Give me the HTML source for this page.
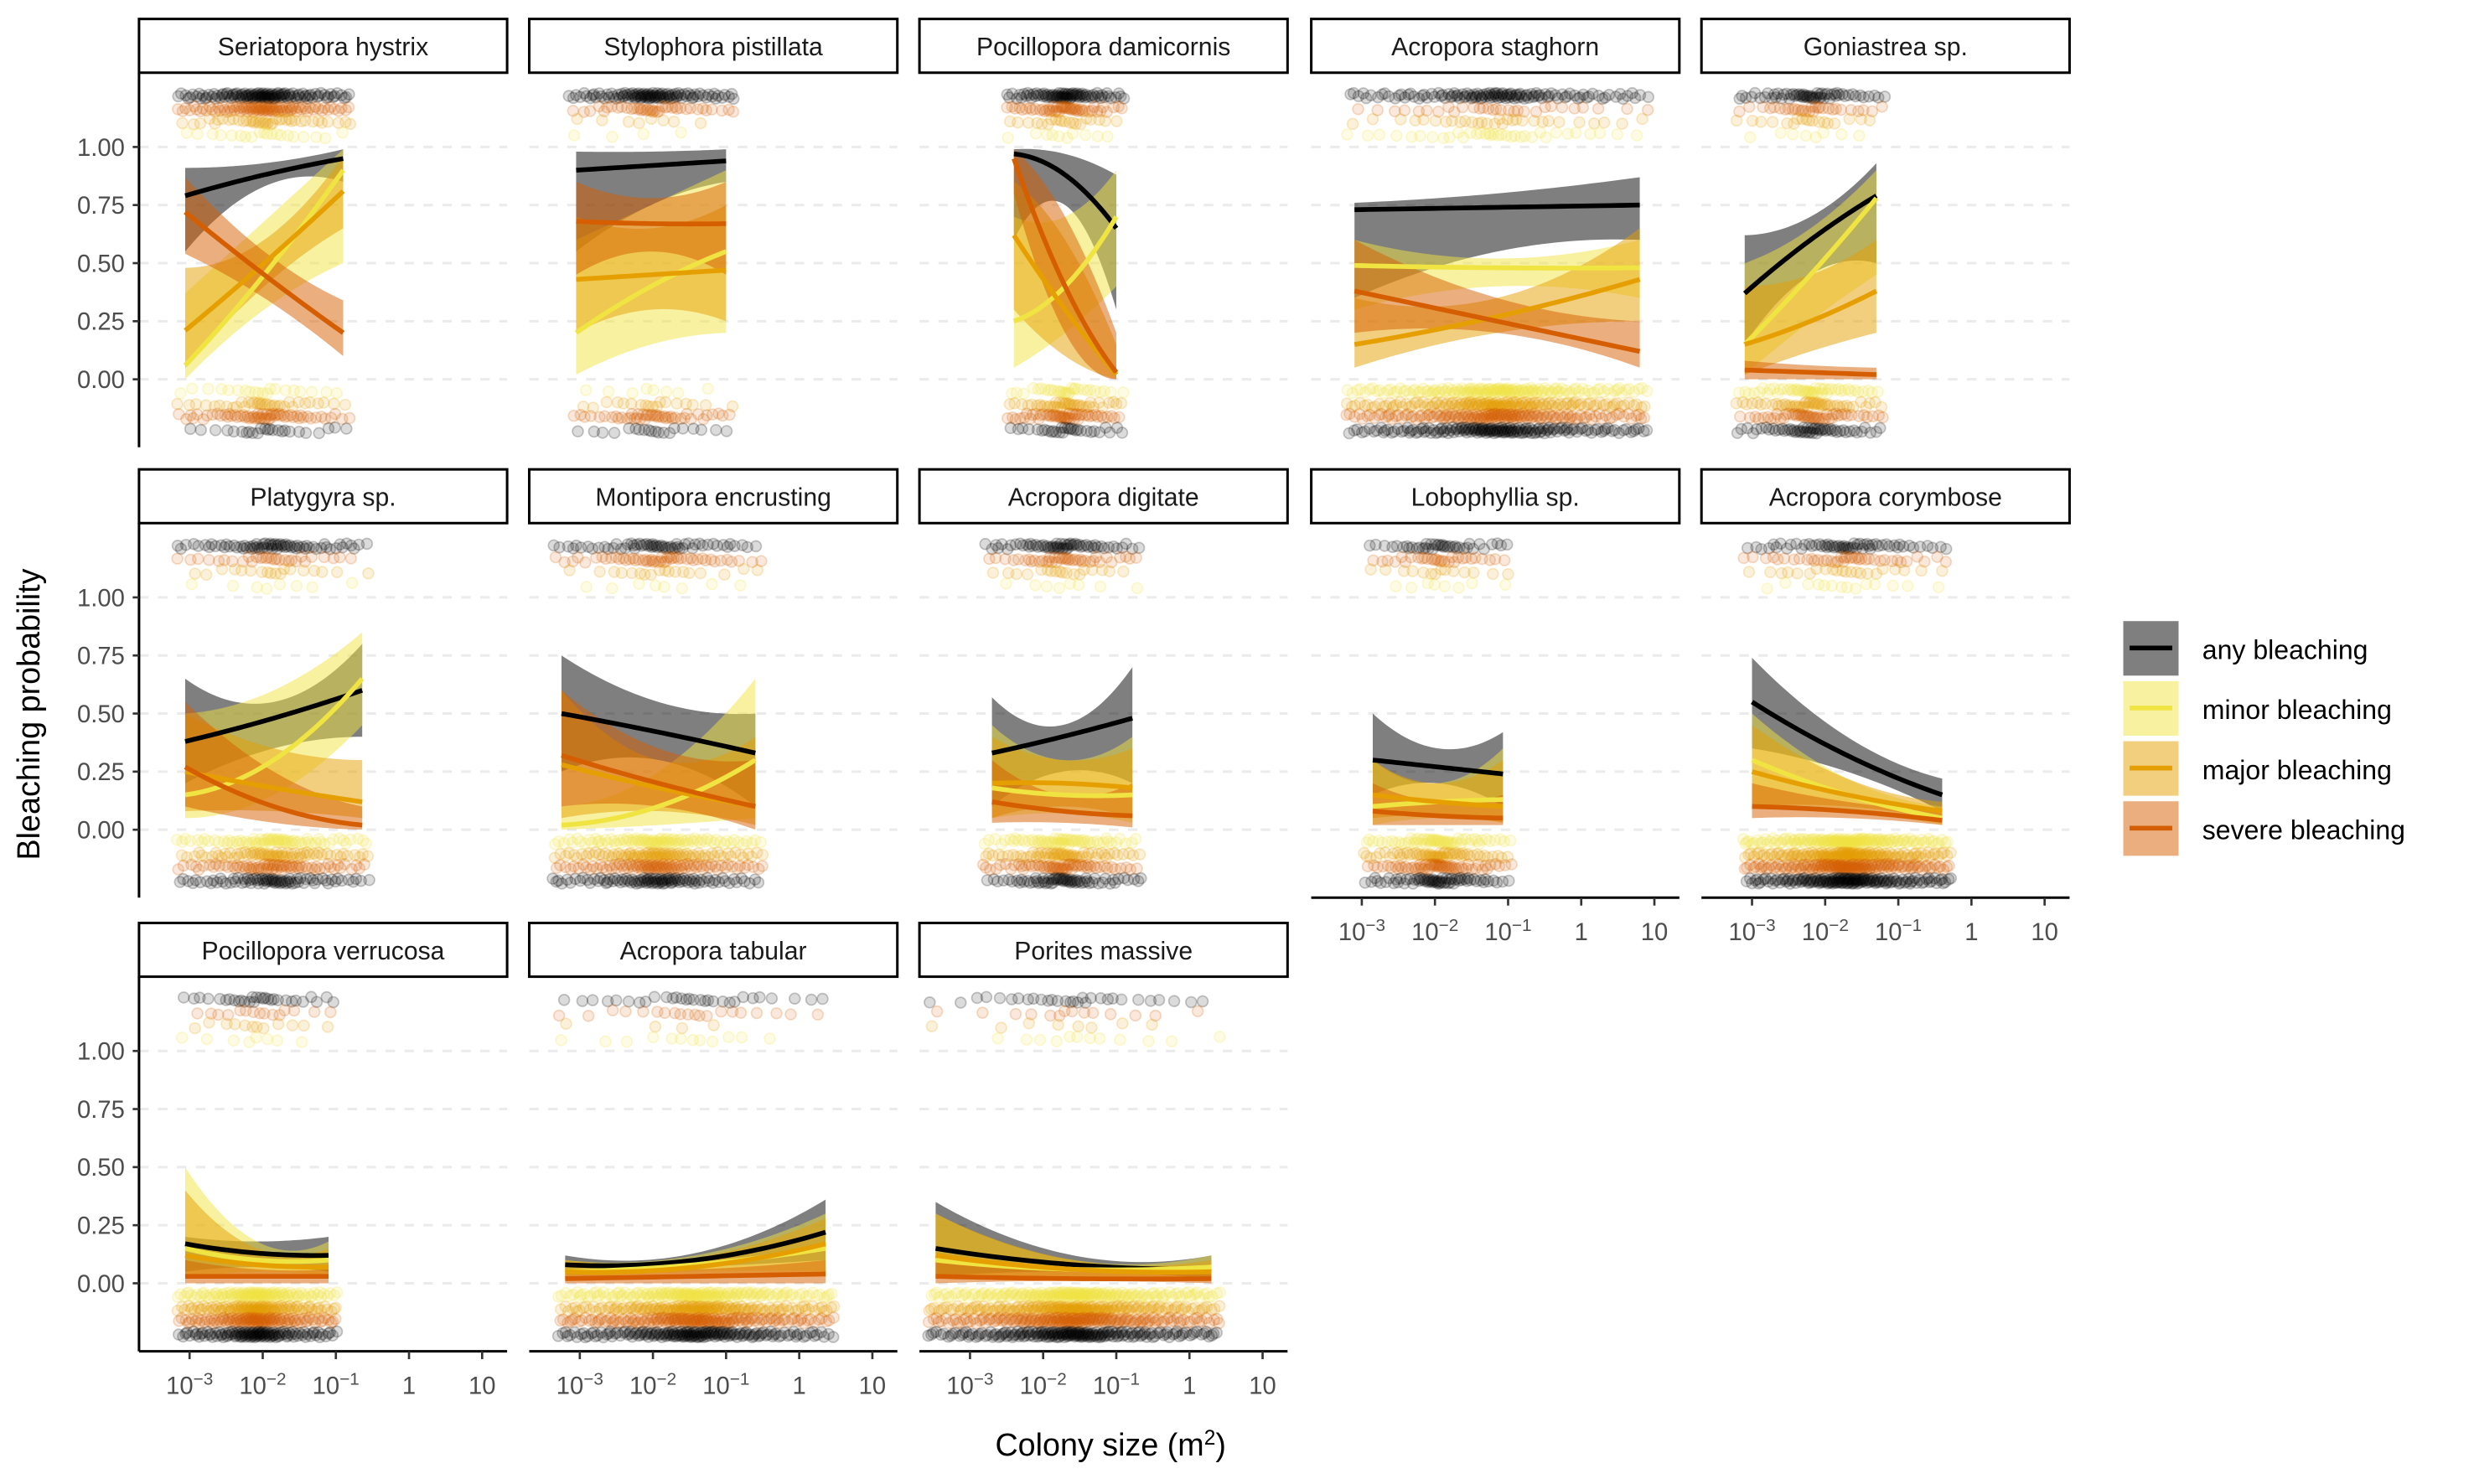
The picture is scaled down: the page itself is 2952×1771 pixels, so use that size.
<!DOCTYPE html>
<html><head><meta charset="utf-8"><style>
html,body{margin:0;padding:0;background:#fff}
svg{display:block}
text{font-family:"Liberation Sans",sans-serif}
</style></head><body>
<svg id="chart" width="2952" height="1771" viewBox="0 0 1566 939" preserveAspectRatio="none" xmlns="http://www.w3.org/2000/svg">
<g id="grid"></g>
<g id="marks"></g>
<g id="frame"></g>
<text transform="translate(25,452) rotate(-90)" text-anchor="middle" font-size="20" fill="#000">Bleaching probability</text>
<text x="703" y="921" text-anchor="middle" font-size="20" fill="#000">Colony size (m<tspan baseline-shift="super" font-size="13">2</tspan>)</text>
<g id="legend"></g>
</svg>
<script>
const panelNames = ["Seriatopora hystrix","Stylophora pistillata","Pocillopora damicornis","Acropora staghorn","Goniastrea sp.","Platygyra sp.","Montipora encrusting","Acropora digitate","Lobophyllia sp.","Acropora corymbose","Pocillopora verrucosa","Acropora tabular","Porites massive"];
// log10 colony size range of each fitted curve
const xRange = [[-3.06,-0.9],[-3.05,-1.0],[-2.4,-1.0],[-3.1,0.8],[-3.1,-1.3],[-3.06,-0.64],[-3.25,-0.6],[-2.7,-0.78],[-2.85,-1.07],[-3.0,-0.4],[-3.06,-1.1],[-3.2,0.36],[-3.47,0.3]];
// [start, mid, end] probabilities
const anyMean = [[0.79,0.88,0.95],[0.9,0.92,0.94],[0.97,0.88,0.65],[0.73,0.74,0.75],[0.37,0.6,0.79],[0.38,0.48,0.6],[0.5,0.42,0.33],[0.33,0.4,0.48],[0.3,0.27,0.24],[0.55,0.32,0.15],[0.17,0.13,0.12],[0.08,0.1,0.22],[0.15,0.08,0.06]];
const anyLow  = [[0.55,0.83,0.85],[0.55,0.75,0.85],[0.6,0.75,0.3],[0.35,0.55,0.6],[0.15,0.45,0.5],[0.2,0.35,0.4],[0.25,0.3,0.1],[0.1,0.25,0.2],[0.15,0.2,0.1],[0.35,0.25,0.08],[0.05,0.07,0.05],[0.05,0.07,0.1],[0.03,0.05,0.02]];
const anyHigh = [[0.91,0.93,0.99],[0.98,0.98,0.99],[0.99,0.97,0.88],[0.76,0.8,0.87],[0.62,0.7,0.93],[0.65,0.55,0.8],[0.75,0.55,0.5],[0.57,0.45,0.7],[0.5,0.35,0.42],[0.74,0.4,0.22],[0.2,0.18,0.2],[0.12,0.13,0.36],[0.35,0.12,0.12]];
const minorMean = [[0.06,0.45,0.9],[0.2,0.4,0.55],[0.25,0.4,0.7],[0.49,0.48,0.48],[0.15,0.45,0.78],[0.15,0.3,0.65],[0.02,0.1,0.3],[0.18,0.15,0.15],[0.1,0.12,0.13],[0.3,0.15,0.05],[0.15,0.1,0.1],[0.05,0.08,0.15],[0.1,0.06,0.07]];
const minorLow  = [[0.0,0.3,0.5],[0.02,0.15,0.2],[0.05,0.2,0.4],[0.3,0.4,0.35],[0.02,0.25,0.45],[0.05,0.15,0.45],[0.0,0.02,0.05],[0.05,0.07,0.03],[0.02,0.05,0.03],[0.1,0.08,0.02],[0.02,0.05,0.03],[0.02,0.05,0.05],[0.02,0.03,0.02]];
const minorHigh = [[0.37,0.68,0.99],[0.6,0.75,0.9],[0.7,0.7,0.9],[0.6,0.52,0.6],[0.5,0.65,0.9],[0.5,0.6,0.85],[0.1,0.25,0.65],[0.45,0.3,0.4],[0.3,0.2,0.35],[0.5,0.22,0.1],[0.5,0.18,0.18],[0.1,0.12,0.3],[0.3,0.1,0.12]];
const majorMean = [[0.21,0.5,0.81],[0.43,0.45,0.47],[0.62,0.3,0.02],[0.15,0.27,0.43],[0.15,0.25,0.38],[0.25,0.18,0.12],[0.28,0.18,0.1],[0.2,0.2,0.18],[0.15,0.12,0.1],[0.25,0.15,0.08],[0.12,0.08,0.07],[0.05,0.07,0.17],[0.12,0.06,0.05]];
const majorLow  = [[0.05,0.4,0.65],[0.2,0.3,0.25],[0.3,0.1,0.0],[0.05,0.2,0.25],[0.02,0.12,0.2],[0.08,0.08,0.05],[0.05,0.08,0.02],[0.05,0.1,0.05],[0.05,0.06,0.03],[0.1,0.1,0.04],[0.02,0.03,0.02],[0.02,0.04,0.04],[0.02,0.03,0.01]];
const majorHigh = [[0.48,0.6,0.96],[0.7,0.65,0.75],[0.85,0.6,0.15],[0.35,0.35,0.65],[0.4,0.45,0.6],[0.5,0.35,0.3],[0.6,0.3,0.4],[0.4,0.3,0.35],[0.3,0.2,0.3],[0.45,0.22,0.12],[0.4,0.15,0.15],[0.1,0.11,0.28],[0.3,0.1,0.1]];
const severeMean = [[0.72,0.45,0.2],[0.68,0.67,0.67],[0.95,0.4,0.03],[0.38,0.25,0.12],[0.04,0.03,0.02],[0.27,0.1,0.02],[0.32,0.2,0.1],[0.12,0.08,0.06],[0.08,0.06,0.05],[0.1,0.08,0.04],[0.03,0.03,0.03],[0.02,0.03,0.04],[0.03,0.02,0.02]];
const severeLow  = [[0.54,0.35,0.1],[0.45,0.55,0.45],[0.8,0.2,0.0],[0.2,0.2,0.05],[0.0,0.0,0.0],[0.1,0.03,0.0],[0.1,0.1,0.0],[0.03,0.03,0.01],[0.02,0.02,0.02],[0.05,0.05,0.02],[0.0,0.0,0.0],[0.0,0.0,0.0],[0.0,0.01,0.0]];
const severeHigh = [[0.87,0.55,0.34],[0.85,0.78,0.85],[0.99,0.7,0.2],[0.6,0.35,0.25],[0.08,0.06,0.05],[0.55,0.25,0.1],[0.6,0.35,0.3],[0.3,0.15,0.2],[0.2,0.12,0.15],[0.2,0.12,0.08],[0.1,0.06,0.06],[0.06,0.06,0.1],[0.1,0.05,0.05]];
// observation counts: bleached (top) [any,severe,major,minor], not bleached (bottom) [minor,major,severe,any]
const topCounts = [[120,90,40,20],[100,40,8,4],[80,50,20,10],[120,30,30,35],[60,30,18,8],[70,30,18,8],[60,50,18,8],[60,40,18,8],[40,30,14,8],[60,40,22,14],[30,15,12,8],[30,20,4,12],[30,14,8,12]];
const botCounts = [[20,35,60,25],[8,18,45,20],[30,40,50,30],[150,150,150,160],[50,50,50,55],[70,70,70,75],[90,90,90,95],[60,60,60,65],[60,60,60,65],[150,150,150,160],[110,110,110,115],[160,160,160,170],[180,180,180,190]];
const yTicks = [0,0.25,0.5,0.75,1];
const yTickLabels = ["0.00","0.25","0.50","0.75","1.00"];
const xTicks = [-3,-2,-1,0,1];
const seriesNames = ["any bleaching","minor bleaching","major bleaching","severe bleaching"];

const NS="http://www.w3.org/2000/svg";
function mk(tag,attrs,parent){const e=document.createElementNS(NS,tag);for(const k in attrs)e.setAttribute(k,attrs[k]);parent.appendChild(e);return e;}
const colLeft=[88,335,582,830,1077], PW=233;
const rowTop=[12,297,584];
const stripH=34, panelH=237;
function xScale(c,v){return colLeft[c]+32+(v+3)*46.3;}
function yScale(r,v){const y0=rowTop[r]+228, y1=rowTop[r]+81;return y0+(y1-y0)*v;}
const grid=document.getElementById('grid'),marks=document.getElementById('marks'),frame=document.getElementById('frame'),legend=document.getElementById('legend');
const lineCol=["#000000","#F0E442","#E69F00","#D55E00"];
const bandCol=["#000000","#F0E442","#E69F00","#D55E00"];
const means=[anyMean,minorMean,majorMean,severeMean],lows=[anyLow,minorLow,majorLow,severeLow],highs=[anyHigh,minorHigh,majorHigh,severeHigh];
function interp(tri,t){return tri[0]*(1-t)*(1-2*t)+tri[1]*4*t*(1-t)+tri[2]*t*(2*t-1);}
function clamp(v){return Math.max(0,Math.min(1,v));}
const N=40;
panelNames.forEach((name,i)=>{
  const r=Math.floor(i/5),c=i%5;
  const x0=colLeft[c],top=rowTop[r]+stripH;
  const strip=mk('rect',{x:x0,y:rowTop[r],width:PW,height:stripH,fill:'#fff',stroke:'#000','stroke-width':1.6},frame);
  
  
  const st=mk('text',{x:x0+PW/2,y:rowTop[r]+23,'text-anchor':'middle','font-size':16,fill:'#1a1a1a'},frame);
  st.textContent=name;
  
  
  yTicks.forEach(v=>{const g=mk('line',{x1:x0,x2:x0+PW,y1:yScale(r,v),y2:yScale(r,v),stroke:'#ebebeb','stroke-width':1.6,'stroke-dasharray':'6,6'},grid);
    
    });
  const [a,b]=xRange[i];
  const ptTopY=[1.22,1.163,1.11,1.05], ptBotY=[-0.05,-0.11,-0.16,-0.22];
  const ptTopCol=[0,3,2,1], ptBotCol=[1,2,3,0];
  const pg=mk('g',{},marks);
  
  
  function strip_pts(count,yv,ci,seed){
    const mid=(a+b)/2,half=(b-a)/2+0.12;
    for(let k=0;k<count;k++){
      const u=((k+1)*0.6180339+seed*0.137)%1;const q=(u-0.5)*2;
      const xv=mid+half*(0.45*q+0.55*q*q*q);
      const jy=(((k*0.754877+seed*0.31)%1)-0.5)*0.025;
      const p=mk('circle',{cx:xScale(c,xv),cy:yScale(r,yv+jy),r:3.4,fill:lineCol[ci],'fill-opacity':0.14,stroke:lineCol[ci],'stroke-opacity':0.22,'stroke-width':0.9},pg);
      
      
    }
  }
  topCounts[i].forEach((n,s)=>strip_pts(n,ptTopY[s],ptTopCol[s],s+i));
  botCounts[i].forEach((n,s)=>strip_pts(n,ptBotY[s],ptBotCol[s],s+i+5));
  for(let s=0;s<4;s++){
    let up=[],dn=[];
    for(let k=0;k<=N;k++){const t=k/N,xv=a+(b-a)*t;
      up.push([xScale(c,xv),yScale(r,clamp(interp(highs[s][i],t)))]);
      dn.push([xScale(c,xv),yScale(r,clamp(interp(lows[s][i],t)))]);}
    const d='M'+up.map(p=>p.join(',')).join('L')+'L'+dn.reverse().map(p=>p.join(',')).join('L')+'Z';
    const band=mk('path',{d:d,fill:bandCol[s],'fill-opacity':0.5},marks);
    
    
  }
  for(let s=0;s<4;s++){
    let pts=[];
    for(let k=0;k<=N;k++){const t=k/N,xv=a+(b-a)*t;pts.push(xScale(c,xv)+','+yScale(r,clamp(interp(means[s][i],t))));}
    const ln=mk('polyline',{points:pts.join(' '),fill:'none',stroke:lineCol[s],'stroke-width':3},marks);
    
    
  }
  if(c===0){
    const ax=mk('line',{x1:x0,x2:x0,y1:top,y2:top+panelH,stroke:'#000','stroke-width':1.6},frame);
    
    
    yTicks.forEach((v,k)=>{
      mk('line',{x1:x0-4,x2:x0,y1:yScale(r,v),y2:yScale(r,v),stroke:'#333','stroke-width':1.4},frame);
      const t=mk('text',{x:x0-9,y:yScale(r,v)+5.5,'text-anchor':'end','font-size':15.5,fill:'#4d4d4d'},frame);
      t.textContent=yTickLabels[k];
      
      
    });
  }
  if(r===2 || (r===1 && c>=3)){
    const yb=top+panelH;
    const ax=mk('line',{x1:x0,x2:x0+PW,y1:yb,y2:yb,stroke:'#000','stroke-width':1.6},frame);
    
    
    xTicks.forEach(v=>{
      const xx=xScale(c,v);
      mk('line',{x1:xx,x2:xx,y1:yb,y2:yb+5,stroke:'#333','stroke-width':1.4},frame);
      const t=mk('text',{x:xx,y:yb+27,'text-anchor':'middle','font-size':15.5,fill:'#4d4d4d'},frame);
      
      
      if(v===0)t.textContent='1';else if(v===1)t.textContent='10';
      else{t.textContent='10';const sp=mk('tspan',{'baseline-shift':'super','font-size':11},t);sp.textContent='\u2212'+(-v);}
    });
  }
});
seriesNames.forEach((nm,s)=>{
  const y=393+s*38;
  const g=mk('g',{},legend);
  
  
  mk('rect',{x:1344,y:y,width:35,height:34.5,fill:bandCol[s],'fill-opacity':0.5},g);
  mk('line',{x1:1348,x2:1375,y1:y+17,y2:y+17,stroke:lineCol[s],'stroke-width':3},g);
  const t=mk('text',{x:1394,y:y+24,'font-size':17,fill:'#000'},g);
  t.textContent=nm;
});
</script>
</body></html>
